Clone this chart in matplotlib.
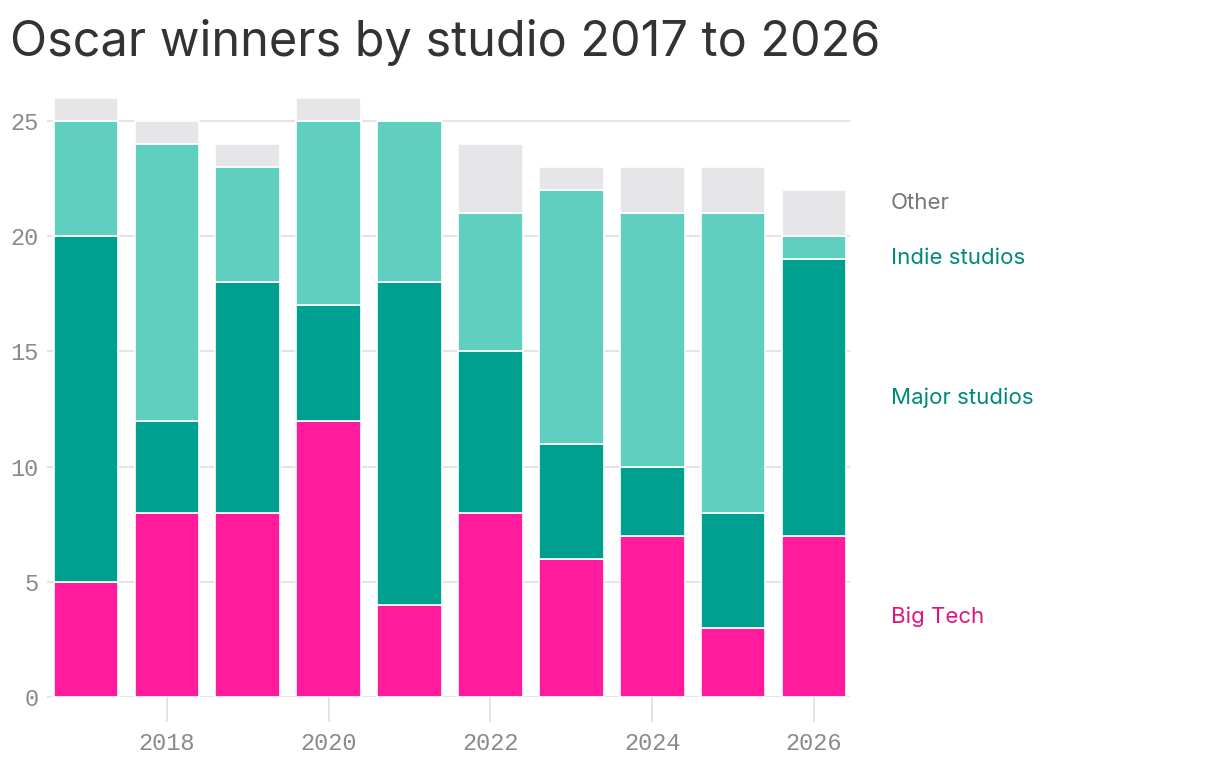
import numpy as np
import matplotlib
matplotlib.use("Agg")
import matplotlib.pyplot as plt

# ─── data ─────────────────────────────────────────────────────────────────────
years        = [2017, 2018, 2019, 2020, 2021, 2022, 2023, 2024, 2025, 2026]
big_tech     = [5, 8, 8, 12, 4, 8, 6, 7, 3, 7]
major        = [15, 4, 10, 5, 14, 7, 5, 3, 5, 12]
indie        = [5, 12, 5, 8, 7, 6, 11, 11, 13, 1]
other        = [1, 1, 1, 1, 0, 3, 1, 2, 2, 2]
series_names = ["Big Tech", "Major studios", "Indie studios", "Other"]
# ──────────────────────────────────────────────────────────────────────────────

bar_colors   = ["#FF1B9B", "#00A091", "#5FCFC0", "#E6E6E8"]
label_colors = ["#E0147F", "#00897B", "#00897B", "#777777"]
tick_color   = "#8A8A8A"
grid_color   = "#E4E4E4"

fig = plt.figure(figsize=(12.2, 7.72), dpi=100)
ax = fig.add_axes([50 / 1220, 75 / 772, 800 / 1220, 599 / 772])

x = np.array(years)
bottom = np.zeros(len(years))
series = [big_tech, major, indie, other]
for vals, col in zip(series, bar_colors):
    vals = np.array(vals)
    ax.bar(x, vals, bottom=bottom, width=0.8, color=col,
           edgecolor="white", linewidth=1.2, zorder=3)
    bottom += vals

ax.set_xlim(2016.555, 2026.445)
ax.set_ylim(0, 26)
ax.set_yticks([0, 5, 10, 15, 20, 25])
ax.set_xticks([2018, 2020, 2022, 2024, 2026])

for s in ax.spines.values():
    s.set_visible(False)
ax.yaxis.grid(True, color=grid_color, linewidth=1.4, zorder=0)
ax.set_axisbelow(True)

ax.tick_params(axis="x", length=18, width=1.4, color=grid_color, pad=7,
               labelsize=17, labelcolor=tick_color)
ax.tick_params(axis="y", length=2, width=1.4, color=grid_color, pad=6,
               labelsize=17, labelcolor=tick_color)
for lab in ax.get_xticklabels() + ax.get_yticklabels():
    lab.set_fontfamily("Liberation Mono")

# direct labels beside the last bar, nudged apart where they crowd
last = [s[-1] for s in series]
tops = np.cumsum(last)
mids = list(tops - np.array(last) / 2)
min_gap = 2.4
for i in range(1, len(mids)):
    if mids[i] - mids[i - 1] < min_gap:
        c = (mids[i] + mids[i - 1]) / 2
        mids[i - 1] = c - min_gap / 2
        mids[i] = c + min_gap / 2
for name, y, col in zip(series_names, mids, label_colors):
    ax.text(2026.95, y, name, color=col, fontsize=16, family="Inter",
            va="center", ha="left", clip_on=False)

fig.text(10 / 1220, 1 - 43 / 772, "Oscar winners by studio 2017 to 2026",
         fontsize=35, color="#333333", family="Inter", va="center", ha="left")

fig.savefig("out.png", dpi=100)
